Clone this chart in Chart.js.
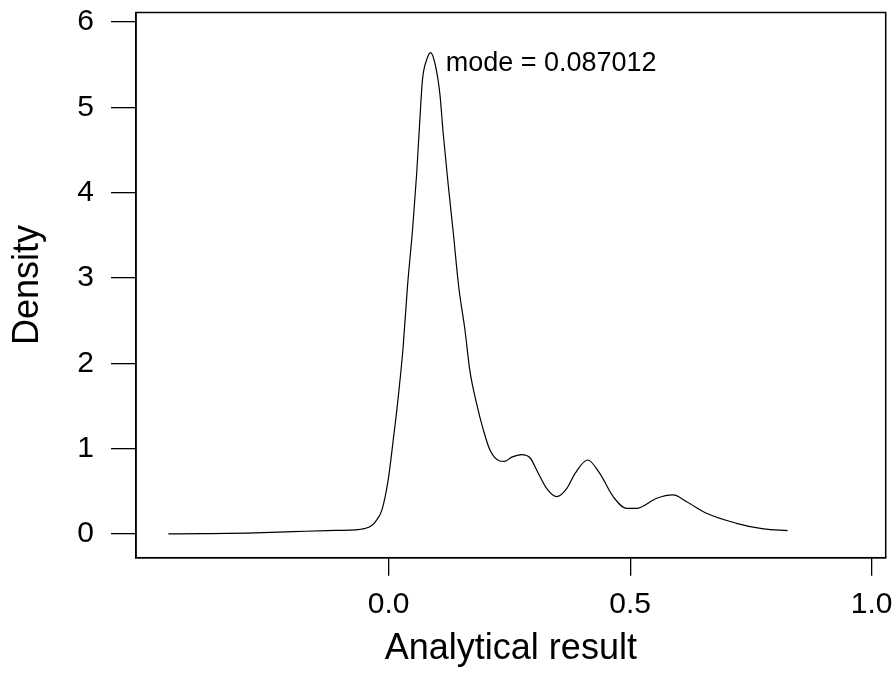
<!DOCTYPE html>
<html lang="en">
  <head>
    <meta charset="UTF-8" />
    <title>Density</title>
    <script src="https://cdn.jsdelivr.net/npm/chart.js"></script>
    <style>
      body {
        margin: 0;
        background: #ffffff;
      }
      #wrap {
        position: relative;
        width: 895px;
        height: 673px;
      }
    </style>
  </head>
  <body>
    <div id="wrap">
      <canvas id="myChart"></canvas>
    </div>

    <script>
      // density curve
      const xValues = [
        -0.456, -0.39, -0.294, -0.198, -0.128, -0.059, -0.039, -0.028, -0.014, -0.001,
        0.0095, 0.02, 0.03, 0.039, 0.05, 0.058, 0.065, 0.07, 0.079, 0.087,
        0.096, 0.106, 0.113, 0.123, 0.134, 0.145, 0.158, 0.168, 0.182, 0.196,
        0.21, 0.23, 0.24, 0.255, 0.275, 0.293, 0.309, 0.327, 0.348, 0.369,
        0.386, 0.412, 0.437, 0.465, 0.493, 0.513, 0.555, 0.589, 0.617, 0.658,
        0.72, 0.776, 0.826
      ];
      const densityValues = [
        0.0, 0.003, 0.01, 0.027, 0.04, 0.055, 0.085, 0.14, 0.28, 0.63,
        1.1, 1.61, 2.19, 2.9, 3.6, 4.22, 4.89, 5.32, 5.56, 5.64,
        5.51, 5.16, 4.69, 4.11, 3.52, 2.9, 2.39, 1.92, 1.53, 1.22,
        0.98, 0.855, 0.85, 0.9, 0.93, 0.89, 0.72, 0.535, 0.437, 0.535,
        0.71, 0.867, 0.71, 0.437, 0.3, 0.3, 0.418, 0.457, 0.378, 0.242,
        0.125, 0.059, 0.039
      ];
      const xTicks = [0, 0.5, 1.0];
      const yTicks = [0, 1, 2, 3, 4, 5, 6];
      const modeX = 0.087012;
      const modeY = 5.64;
      const modeLabel = "mode = 0.087012";

      const FONT = "'Liberation Sans', Arial, sans-serif";

      const points = xValues.map((x, i) => ({ x: x, y: densityValues[i] }));

      // full box round the plot area + mode label
      const boxPlugin = {
        id: "box",
        afterDraw(chart) {
          const { ctx, chartArea: a, scales } = chart;
          ctx.save();
          ctx.strokeStyle = "#000";
          ctx.lineWidth = 1.5;
          ctx.strokeRect(a.left, a.top, a.right - a.left, a.bottom - a.top);

          ctx.fillStyle = "#000";
          ctx.font = "27px " + FONT;
          ctx.textBaseline = "alphabetic";
          ctx.textAlign = "left";
          ctx.fillText(
            modeLabel,
            scales.x.getPixelForValue(modeX) + 15,
            scales.y.getPixelForValue(modeY) + 18.6
          );
          ctx.restore();
        }
      };

      new Chart(document.getElementById("myChart"), {
        type: "scatter",
        data: {
          datasets: [
            {
              data: points,
              showLine: true,
              borderColor: "#000",
              borderWidth: 1.2,
              pointRadius: 0,
              cubicInterpolationMode: "monotone",
              fill: false
            }
          ]
        },
        options: {
          responsive: true,
          maintainAspectRatio: false,
          animation: false,
          layout: { padding: { left: 0, top: 12.5, right: 9.3, bottom: 0 } },
          plugins: { legend: { display: false }, tooltip: { enabled: false } },
          scales: {
            x: {
              type: "linear",
              min: -0.523,
              max: 1.029,
              afterBuildTicks: s => { s.ticks = xTicks.map(v => ({ value: v })); },
              afterFit: s => {
                s.height = 115.3;
                s.paddingLeft = 0;
                s.paddingRight = 0;
              },
              ticks: {
                color: "#000",
                padding: 10.6,
                font: { family: FONT, size: 30 },
                callback: v => Number(v).toFixed(1)
              },
              grid: {
                display: true,
                drawOnChartArea: false,
                drawTicks: true,
                tickLength: 18,
                color: "#000",
                lineWidth: 1.3
              },
              border: { display: true, color: "#000", width: 1.5 },
              title: {
                display: true,
                text: "Analytical result",
                color: "#000",
                font: { family: FONT, size: 36 },
                padding: { top: 0, bottom: 2 }
              }
            },
            y: {
              type: "linear",
              min: -0.278,
              max: 6.11,
              afterBuildTicks: s => { s.ticks = yTicks.map(v => ({ value: v })); },
              afterFit: s => {
                s.width = 136;
                s.paddingTop = 0;
                s.paddingBottom = 0;
              },
              ticks: {
                color: "#000",
                padding: 17,
                font: { family: FONT, size: 30 },
                callback: v => String(v)
              },
              grid: {
                display: true,
                drawOnChartArea: false,
                drawTicks: true,
                tickLength: 25,
                color: "#000",
                lineWidth: 1.3
              },
              border: { display: true, color: "#000", width: 1.5 },
              title: {
                display: true,
                text: "Density",
                color: "#000",
                font: { family: FONT, size: 36 },
                padding: { top: 6, bottom: 0 }
              }
            }
          }
        },
        plugins: [boxPlugin]
      });
    </script>
  </body>
</html>
